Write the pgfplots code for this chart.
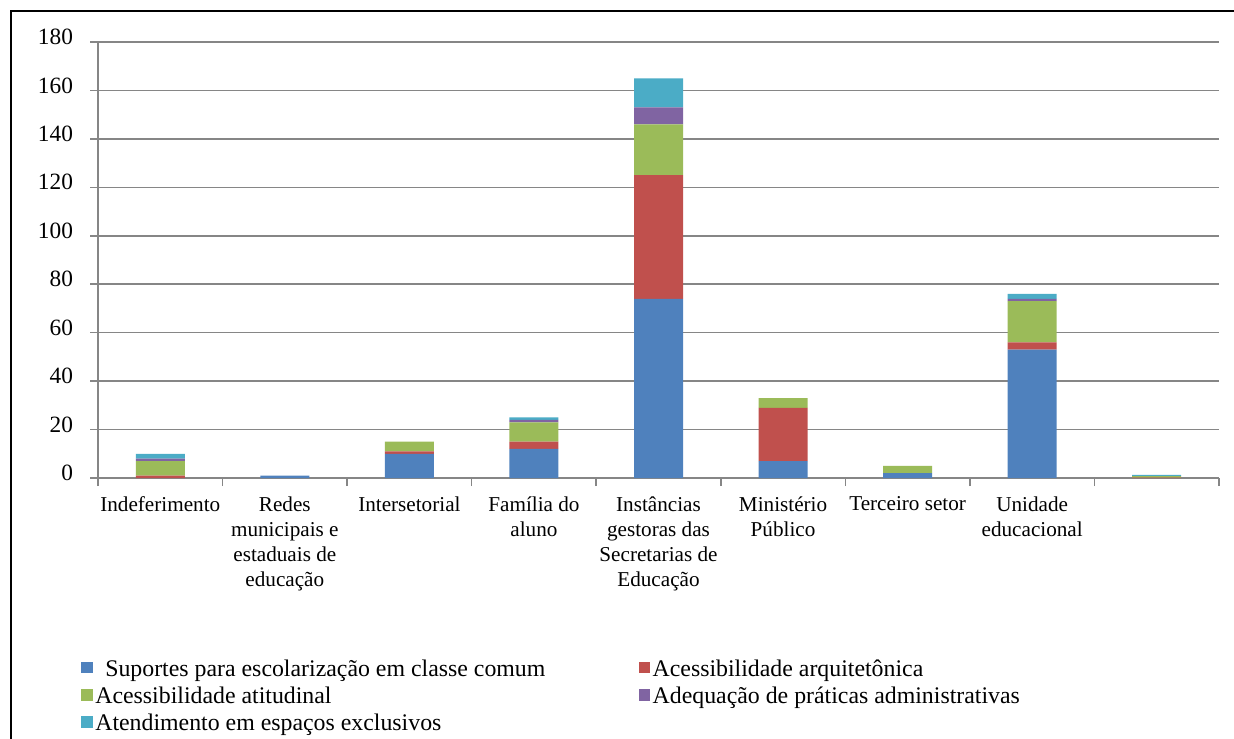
\documentclass[border=0pt]{standalone}
\usepackage{fontspec}
\setmainfont{Liberation Serif}
\usepackage{pgfplots}
\usepackage{pgfplotstable}
\pgfplotsset{compat=1.18}

\definecolor{cBlue}{HTML}{4F81BD}
\definecolor{cRed}{HTML}{C0504D}
\definecolor{cGreen}{HTML}{9BBB59}
\definecolor{cPurple}{HTML}{8064A2}
\definecolor{cCyan}{HTML}{4BACC6}
\definecolor{gridgray}{HTML}{868686}

% one row per category, one column per type of support
\pgfplotstableread{
x blue red green purple cyan
0 0  1   6   1 2
1 1  0   0   0 0
2 10 1   4   0 0
3 12 3   8   1 1
4 74 51  21  7 12
5 7  22  4   0 0
6 2  0   3   0 0
7 53 3   17  1 2
8 0  0.2 0.6 0 0.5
}\datatable

\pgfplotsset{
  sq legend/.style={legend image code/.code={\fill[##1] (0pt,-3.3pt) rectangle (7pt,3.8pt);}},
}

\begin{document}
\begin{tikzpicture}
\useasboundingbox (0,0) rectangle (740.4pt,442.8pt);
\draw[black, line width=1.2pt] (6.6pt,-5pt) -- (6.6pt,436.2pt) -- (750pt,436.2pt);
\begin{axis}[
  at={(58.8pt,156pt)}, anchor=south west,
  scale only axis, width=672.6pt, height=261.6pt,
  ybar stacked, bar width=29.4pt,
  xmin=-0.5, xmax=8.5, ymin=0, ymax=180,
  axis x line*=bottom, axis y line*=left,
  axis line style={gridgray, line width=0.9pt},
  tick align=outside,
  major tick length=4.8pt,
  tick style={gridgray, line width=0.9pt},
  ytick={0,20,...,180},
  ymajorgrids,
  grid style={gridgray, line width=0.9pt},
  xtick={-0.5,0.5,1.5,2.5,3.5,4.5,5.5,6.5,7.5,8.5},
  x tick label as interval,
  xticklabels={Indeferimento,
    {Redes\\municipais e\\estaduais de\\educação},
    Intersetorial,
    {Família do\\aluno},
    {Instâncias\\gestoras das\\Secretarias de\\Educação},
    {Ministério\\Público},
    Terceiro setor,
    {Unidade\\educacional},
    {}},
  xticklabel style={align=center, font=\fontsize{12.7}{15}\selectfont, inner sep=0pt, anchor=north, yshift=-6pt},
  yticklabel style={font=\fontsize{14}{16}\selectfont, inner sep=0pt, anchor=east, xshift=-10pt, yshift=3pt},
  /pgf/number format/assume math mode=true,
  legend columns=2,
  legend cell align=left,
  legend style={at={(-0.0152,-0.41)}, anchor=north west, draw=none, fill=none,
    inner sep=0pt, column sep=0pt, row sep=3.3pt,
    nodes={inner sep=0pt},
    font=\fontsize{14.3}{16.5}\selectfont},
]
\addplot[fill=cBlue, draw=none, sq legend] table[x=x, y=blue] {\datatable};
\addplot[fill=cRed, draw=none, sq legend] table[x=x, y=red] {\datatable};
\addplot[fill=cGreen, draw=none, sq legend] table[x=x, y=green] {\datatable};
\addplot[fill=cPurple, draw=none, sq legend] table[x=x, y=purple] {\datatable};
\addplot[fill=cCyan, draw=none, sq legend] table[x=x, y=cyan] {\datatable};
\legend{\makebox[327.4pt][l]{\strut\hspace{7.4pt}Suportes para escolarização em classe comum},
  \strut\hspace{1.4pt}Acessibilidade arquitetônica,
  \makebox[327.4pt][l]{\strut\hspace{1.4pt}Acessibilidade atitudinal},
  \strut\hspace{1.4pt}Adequação de práticas administrativas,
  \makebox[327.4pt][l]{\strut\hspace{1.4pt}Atendimento em espaços exclusivos}}
\end{axis}
\end{tikzpicture}
\end{document}
